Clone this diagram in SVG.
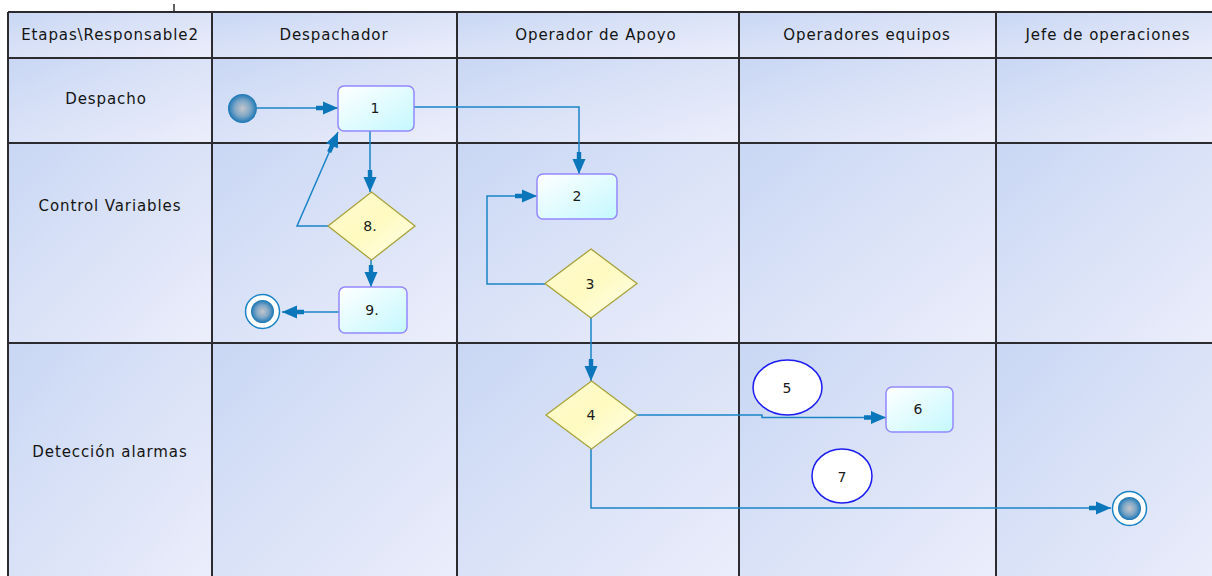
<svg xmlns="http://www.w3.org/2000/svg" width="1212" height="576" viewBox="0 0 1212 576">
  <defs>
    <linearGradient id="cellFill" x1="0" y1="0" x2="1" y2="1">
      <stop offset="0" stop-color="#c9d7f4"/>
      <stop offset="1" stop-color="#eceefb"/>
    </linearGradient>
    <linearGradient id="taskFill" x1="0" y1="0" x2="1" y2="1">
      <stop offset="0" stop-color="#ffffff"/>
      <stop offset="1" stop-color="#c4f8fe"/>
    </linearGradient>
    <linearGradient id="gateFill" x1="0" y1="0" x2="1" y2="1">
      <stop offset="0" stop-color="#fffbd2"/>
      <stop offset="0.5" stop-color="#fffac0"/>
      <stop offset="1" stop-color="#ffffec"/>
    </linearGradient>
    <radialGradient id="ballFill" cx="0.5" cy="0.5" r="0.5">
      <stop offset="0" stop-color="#c4c6cc"/>
      <stop offset="0.55" stop-color="#7ea6c6"/>
      <stop offset="1" stop-color="#1a76b6"/>
    </radialGradient>
    <marker id="arrow" markerUnits="userSpaceOnUse" markerWidth="24" markerHeight="16" viewBox="-23 -8 24 16" refX="0" refY="0" orient="auto">
      <path d="M-22,-2.2H-15V-6.5L0,0L-15,6.5V2.2H-22Z" fill="#0b76ba"/>
    </marker>
    <style>
      .cell { fill: url(#cellFill); }
      .grid { stroke: #2b2b30; stroke-width: 2; fill: none; }
      .lbl { font-family: "DejaVu Sans", Verdana, sans-serif; font-size: 15px; letter-spacing: 0.9px; fill: #141414; text-anchor: middle; }
      .num { font-family: "DejaVu Sans", Verdana, sans-serif; font-size: 14px; fill: #1a1a1a; text-anchor: middle; }
      .task { fill: url(#taskFill); stroke: #9488ff; stroke-width: 1.5; }
      .gate { fill: url(#gateFill); stroke: #a8a23c; stroke-width: 1.3; }
      .note { fill: #ffffff; stroke: #1c1cf0; stroke-width: 1.5; }
      .flow { fill: none; stroke: #1a84c6; stroke-width: 1.5; marker-end: url(#arrow); }
    </style>
  </defs>

  <rect width="1212" height="576" fill="#ffffff"/>

  <!-- lane grid: header row, three stage rows, five columns -->
  <g id="lanes">
    <rect class="cell" x="8" y="12" width="204" height="46"/>
    <rect class="cell" x="212" y="12" width="245" height="46"/>
    <rect class="cell" x="457" y="12" width="282" height="46"/>
    <rect class="cell" x="739" y="12" width="257" height="46"/>
    <rect class="cell" x="996" y="12" width="230" height="46"/>

    <rect class="cell" x="8" y="58" width="204" height="85"/>
    <rect class="cell" x="212" y="58" width="245" height="85"/>
    <rect class="cell" x="457" y="58" width="282" height="85"/>
    <rect class="cell" x="739" y="58" width="257" height="85"/>
    <rect class="cell" x="996" y="58" width="230" height="85"/>

    <rect class="cell" x="8" y="143" width="204" height="200"/>
    <rect class="cell" x="212" y="143" width="245" height="200"/>
    <rect class="cell" x="457" y="143" width="282" height="200"/>
    <rect class="cell" x="739" y="143" width="257" height="200"/>
    <rect class="cell" x="996" y="143" width="230" height="200"/>

    <rect class="cell" x="8" y="343" width="204" height="250"/>
    <rect class="cell" x="212" y="343" width="245" height="250"/>
    <rect class="cell" x="457" y="343" width="282" height="250"/>
    <rect class="cell" x="739" y="343" width="257" height="250"/>
    <rect class="cell" x="996" y="343" width="230" height="250"/>

    <path class="grid" d="M8,12H1220 M8,58H1220 M8,143H1220 M8,343H1220 M8,12V590 M212,12V590 M457,12V590 M739,12V590 M996,12V590"/>
    <path d="M174,4V12" stroke="#2b2b30" stroke-width="1.5"/>

    <text class="lbl" x="110" y="40">Etapas\Responsable2</text>
    <text class="lbl" x="334" y="40">Despachador</text>
    <text class="lbl" x="596" y="40">Operador de Apoyo</text>
    <text class="lbl" x="867" y="40">Operadores equipos</text>
    <text class="lbl" x="1108" y="40">Jefe de operaciones</text>

    <text class="lbl" x="106" y="104">Despacho</text>
    <text class="lbl" x="110" y="211">Control Variables</text>
    <text class="lbl" x="110" y="457">Detección alarmas</text>
  </g>

  <!-- sequence flows -->
  <g id="connectors">
    <path class="flow" d="M257,108H338"/>
    <path class="flow" d="M414,107H579V174"/>
    <path class="flow" d="M370,131V192"/>
    <path class="flow" d="M328,226H297L338,132"/>
    <path class="flow" d="M371,260V287"/>
    <path class="flow" d="M339,312H282"/>
    <path class="flow" d="M545,284H487V196H537"/>
    <path class="flow" d="M591,318V381"/>
    <path class="flow" d="M637,415H762V417.5H886"/>
    <path class="flow" d="M591,449V508H1111"/>
  </g>

  <g id="start">
    <circle cx="242.5" cy="108.5" r="14.5" fill="url(#ballFill)"/>
  </g>

  <g id="task1">
    <rect class="task" x="338" y="86" width="76" height="45" rx="6"/>
    <text class="num" x="375" y="113">1</text>
  </g>

  <g id="task2">
    <rect class="task" x="537" y="174" width="80" height="45" rx="6"/>
    <text class="num" x="577" y="201">2</text>
  </g>

  <g id="gate3">
    <polygon class="gate" points="591,249 637,283.5 591,318 545,283.5"/>
    <text class="num" x="590" y="289">3</text>
  </g>

  <g id="gate4">
    <polygon class="gate" points="591.5,381 637,415 591.5,449 546,415"/>
    <text class="num" x="591" y="420">4</text>
  </g>

  <g id="note5">
    <ellipse class="note" cx="787.5" cy="387.5" rx="34.5" ry="27.5"/>
    <text class="num" x="787" y="393">5</text>
  </g>

  <g id="task6">
    <rect class="task" x="886" y="387" width="67" height="45" rx="6"/>
    <text class="num" x="918" y="414">6</text>
  </g>

  <g id="note7">
    <ellipse class="note" cx="842" cy="476" rx="30" ry="27"/>
    <text class="num" x="842" y="482">7</text>
  </g>

  <g id="gate8">
    <polygon class="gate" points="371.5,192 415,226 371.5,260 328,226"/>
    <text class="num" x="370" y="231">8.</text>
  </g>

  <g id="task9">
    <rect class="task" x="339" y="287" width="68" height="46" rx="6"/>
    <text class="num" x="372" y="315">9.</text>
  </g>

  <g id="end1">
    <circle cx="262.5" cy="311.5" r="17" fill="#ffffff" stroke="#1a84c6" stroke-width="1.5"/>
    <circle cx="262.5" cy="311.5" r="11.5" fill="url(#ballFill)"/>
  </g>

  <g id="end2">
    <circle cx="1129.5" cy="508.5" r="17" fill="#ffffff" stroke="#1a84c6" stroke-width="1.5"/>
    <circle cx="1129.5" cy="508.5" r="11.5" fill="url(#ballFill)"/>
  </g>
</svg>
